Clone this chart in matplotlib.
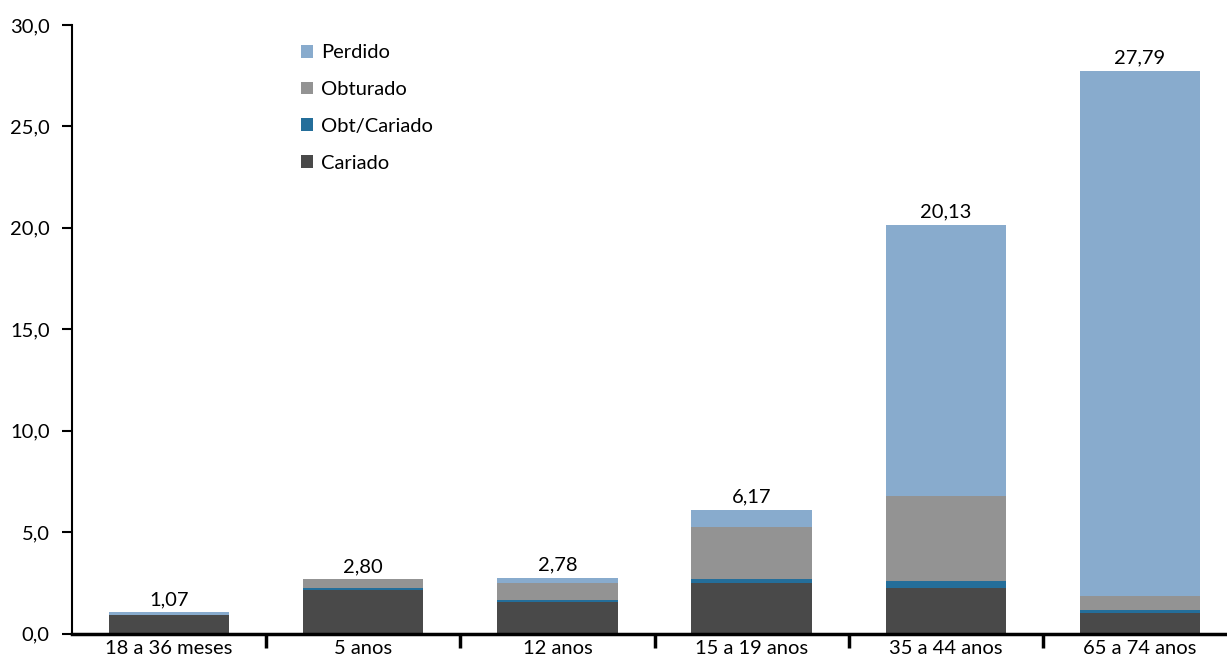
import matplotlib
matplotlib.use('Agg')
import matplotlib.pyplot as plt
from matplotlib.ticker import FuncFormatter

plt.rcParams['font.family'] = ['Lato', 'DejaVu Sans']

# Age groups and component values
groups = ['18 a 36 meses', '5 anos', '12 anos', '15 a 19 anos', '35 a 44 anos', '65 a 74 anos']
cariado = [0.91, 2.12, 1.55, 2.48, 2.25, 1.00]
obt_cariado = [0.00, 0.10, 0.11, 0.20, 0.35, 0.16]
obturado = [0.00, 0.45, 0.84, 2.57, 4.19, 0.69]
perdido = [0.13, 0.00, 0.25, 0.84, 13.37, 25.90]
totals = ['1,07', '2,80', '2,78', '6,17', '20,13', '27,79']

colors = {'Cariado': '#494949', 'Obt/Cariado': '#246e9a',
          'Obturado': '#939393', 'Perdido': '#88abcd'}

fig = plt.figure(figsize=(12.27, 6.63), dpi=100)
# axis runs a bit past the right edge of the picture, as in the original
ax = fig.add_axes([72 / 1227, 1 - 633.5 / 663, (1237 - 72) / 1227, (633.5 - 25) / 663])

x = list(range(len(groups)))
w = 0.62
bottom = [0.0] * len(groups)
handles = {}
for name, vals in [('Cariado', cariado), ('Obt/Cariado', obt_cariado),
                   ('Obturado', obturado), ('Perdido', perdido)]:
    handles[name] = ax.bar(x, vals, w, bottom=bottom, color=colors[name], label=name)
    bottom = [b + v for b, v in zip(bottom, vals)]

# total labels
for xi, top, txt in zip(x, bottom, totals):
    ax.annotate(txt, (xi, top), xytext=(0, 3), textcoords='offset points',
                ha='center', va='bottom', fontsize=14.5)

ax.set_xlim(-0.5, 5.5)
ax.set_ylim(0, 30)
ax.set_yticks([0, 5, 10, 15, 20, 25, 30])
ax.yaxis.set_major_formatter(FuncFormatter(lambda v, p: f'{v:.1f}'.replace('.', ',')))
ax.set_xticks(x)
ax.set_xticklabels(groups)
ax.set_xticks([0.5, 1.5, 2.5, 3.5, 4.5], minor=True)
ax.tick_params(axis='x', which='major', length=0, labelsize=14.5, pad=5)
ax.tick_params(axis='x', which='minor', length=10, width=2.5, direction='out')
ax.tick_params(axis='y', length=7, width=1.5, labelsize=14.5, pad=9)

for s in ['top', 'right']:
    ax.spines[s].set_visible(False)
ax.spines['bottom'].set_linewidth(2.5)
ax.spines['left'].set_linewidth(1.5)

order = ['Perdido', 'Obturado', 'Obt/Cariado', 'Cariado']
ax.legend([handles[k] for k in order], order, loc='upper left',
          bbox_to_anchor=(0.181, 0.998), frameon=False, fontsize=14.5,
          handlelength=0.6, handleheight=0.6, handletextpad=0.4, labelspacing=0.98)

plt.savefig('out.png', dpi=100)
